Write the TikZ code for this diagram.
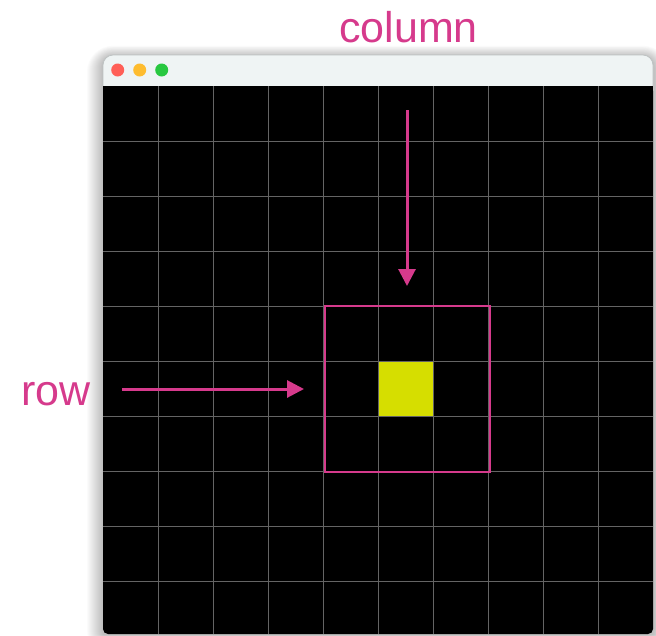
\documentclass[tikz,border=0pt]{standalone}
\usepackage{fontspec}
\setmainfont{Liberation Sans}
\usetikzlibrary{arrows.meta}
\definecolor{accent}{RGB}{214,58,140}
\definecolor{cellyellow}{RGB}{214,222,0}
\definecolor{gridgray}{RGB}{100,100,100}
\definecolor{titlebar}{RGB}{239,244,244}
\definecolor{titleborder}{RGB}{190,195,195}
\definecolor{lightred}{RGB}{255,95,87}
\definecolor{lightyellow}{RGB}{254,188,46}
\definecolor{lightgreen}{RGB}{40,200,64}
\tikzset{
  labeltext/.style={text=accent, font=\fontsize{43}{50}\selectfont, inner sep=0pt},
  pointer/.style={draw=accent, line width=3pt, -{Triangle[length=17pt,width=17pt]}},
  focusbox/.style={draw=accent, line width=2pt, minimum width=165pt, minimum height=166pt, inner sep=0pt},
  cellbox/.style={fill=cellyellow, draw=gridgray, line width=0.8pt, minimum size=55pt, inner sep=0pt},
  gridline/.style={draw=gridgray, line width=0.9pt},
  light/.style={circle, inner sep=0pt, minimum size=13pt},
  shadowlayer/.style={fill=black, opacity=0.016}
}
\begin{document}
\begin{tikzpicture}[x=1pt,y=-1pt]
\useasboundingbox (0,0) rectangle (656,635);
\fill[white] (0,0) rectangle (656,635);
% soft shadow
\foreach \i in {1,...,16} {
  \fill[shadowlayer, rounded corners={10pt+\i*1pt}] ({103-\i},{57-\i*0.7}) rectangle ({653+\i},{640+\i});
}
% window
\fill[titlebar, rounded corners=10pt] (103,55) rectangle (653,100);
\draw[titleborder, line width=0.8pt, rounded corners=10pt] (103,86) -- (103,55) -- (653,55) -- (653,86);
\fill[black, rounded corners=5pt] (103,86) rectangle (653,634);
\fill[black] (103,86) rectangle (653,100);
% traffic lights
\node[light, fill=lightred] (red) at (117.7,70) {};
\node[light, fill=lightyellow] (yellow) at (139.7,70) {};
\node[light, fill=lightgreen] (green) at (161.7,70) {};
% grid
\foreach \k in {0,...,8} {
  \draw[gridline] ({158+55*\k},86) -- ({158+55*\k},634);
  \draw[gridline] (103,{141+55*\k}) -- (653,{141+55*\k});
}
% cell and focus
\node[cellbox] (cell) at (405.5,388.5) {};
\node[focusbox] (focus) at (407.2,388.7) {};
% labels
\node[labeltext, anchor=base west] (rowlabel) at (21,405) {row};
\node[labeltext, anchor=base west] (collabel) at (339,42) {column};
% arrows
\coordinate (rowstart) at (122,389);
\coordinate (rowend) at (304,389);
\coordinate (colstart) at (407,110);
\coordinate (colend) at (407,286);
\draw[pointer] (rowstart) -- (rowend);
\draw[pointer] (colstart) -- (colend);
\end{tikzpicture}
\end{document}
